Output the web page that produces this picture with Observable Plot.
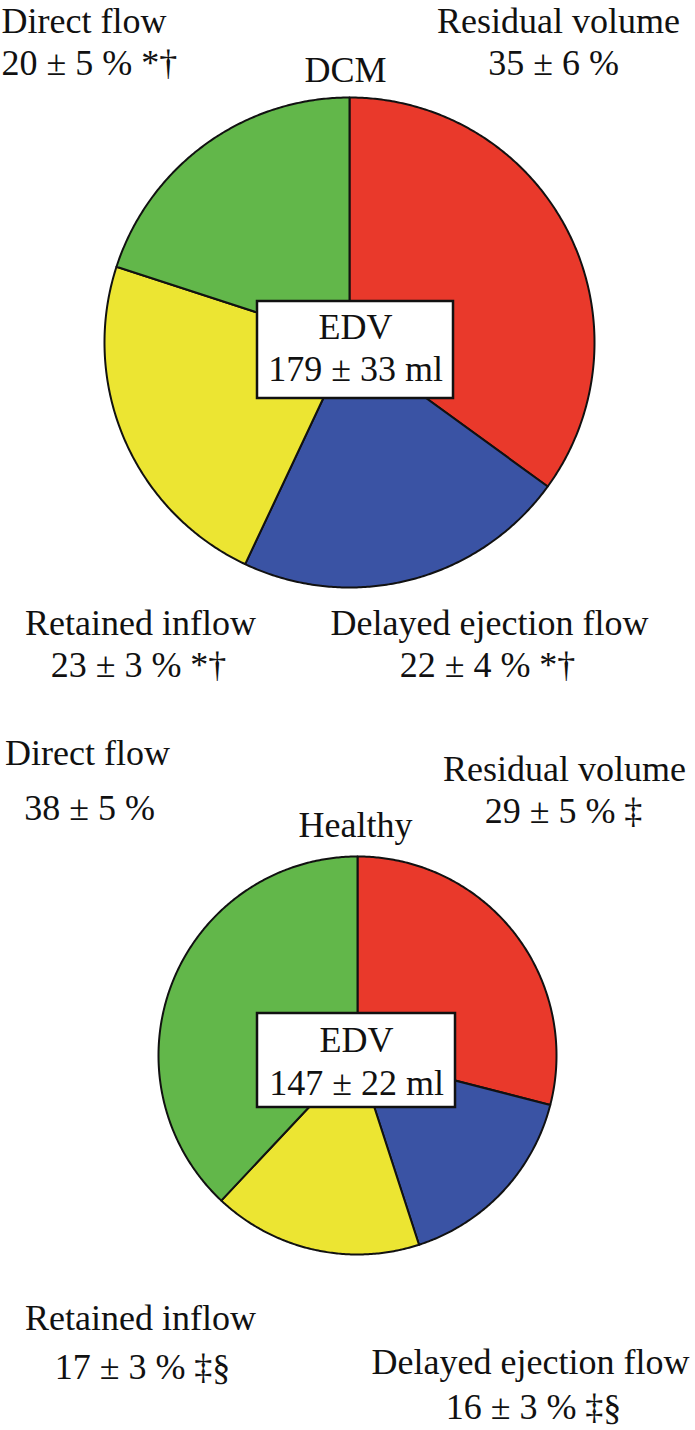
<!DOCTYPE html>
<html>
<head>
<meta charset="utf-8">
<script src="https://cdn.jsdelivr.net/npm/d3@7"></script>
<script src="https://cdn.jsdelivr.net/npm/@observablehq/plot@0.6"></script>
<style>
  html, body { margin: 0; padding: 0; background: #fff; }
  #chart svg { display: block; background: #fff; }
</style>
</head>
<body>
<div id="chart"></div>
<script>
// ---- Data ----
const categories = ["Residual volume", "Delayed ejection flow", "Retained inflow", "Direct flow"];
const groups = ["DCM", "Healthy"];
const dcmMean = [35, 22, 23, 20];
const dcmSD = [6, 4, 3, 5];
const dcmMarks = ["", "*†", "*†", "*†"];
const healthyMean = [29, 16, 17, 38];
const healthySD = [5, 3, 3, 5];
const healthyMarks = ["‡", "‡§", "‡§", ""];
const edvMean = [179, 147];
const edvSD = [33, 22];

// ---- Styles ----
const sliceColors = ["#e9392b", "#3a53a4", "#ece532", "#62b74a"];
const FONT = "Liberation Serif, Times New Roman, serif";
const FS = 36;

// ---- Layout (pixels) ----
const W = 695, H = 1430;
const pieLayout = [
  {cx: 349, cy: 342, r: 245},
  {cx: 357, cy: 1055, r: 199}
];
const titlePos = [{x: 345, y: 81}, {x: 355, y: 836}];
// label positions per group per category: name line and value line
const labelPos = [
  [ // DCM
    {nx: 558, ny: 32, vx: 553, vy: 74, anchor: "middle"},
    {nx: 489, ny: 634, vx: 487, vy: 676, anchor: "middle"},
    {nx: 140, ny: 634, vx: 138, vy: 676, anchor: "middle"},
    {nx: 1, ny: 32, vx: 1, vy: 74, anchor: "start"}
  ],
  [ // Healthy
    {nx: 564, ny: 780, vx: 563, vy: 822, anchor: "middle"},
    {nx: 530, ny: 1373, vx: 533, vy: 1418, anchor: "middle"},
    {nx: 140, ny: 1329, vx: 142, vy: 1378, anchor: "middle"},
    {nx: 87, ny: 764, vx: 89, vy: 819, anchor: "middle"}
  ]
];
const boxLayout = [
  {x1: 257, x2: 453, y1: 301, y2: 398, t1: 338, t2: 380, tx: 355},
  {x1: 257, x2: 455, y1: 1013, y2: 1107, t1: 1051, t2: 1094, tx: 356}
];

// ---- Build slice polygons from the values via d3.pie ----
const seriesMean = [dcmMean, healthyMean];
const seriesSD = [dcmSD, healthySD];
const seriesMarks = [dcmMarks, healthyMarks];

const slicePts = [];
seriesMean.forEach((vals, g) => {
  const {cx, cy, r} = pieLayout[g];
  const arcs = d3.pie().sort(null)(vals);
  arcs.forEach((a, i) => {
    const z = groups[g] + "-" + categories[i];
    const fill = sliceColors[i];
    slicePts.push({x: cx, y: cy, z, fill});
    const n = Math.max(2, Math.ceil((a.endAngle - a.startAngle) / (Math.PI / 360)));
    for (let k = 0; k <= n; k++) {
      const ang = a.startAngle + (a.endAngle - a.startAngle) * k / n;
      slicePts.push({x: cx + r * Math.sin(ang), y: cy - r * Math.cos(ang), z, fill});
    }
    slicePts.push({x: cx, y: cy, z, fill});
  });
});

// ---- Text ----
const texts = [];
groups.forEach((g, gi) => {
  texts.push({x: titlePos[gi].x, y: titlePos[gi].y, text: g, anchor: "middle"});
  categories.forEach((c, i) => {
    const p = labelPos[gi][i];
    const m = seriesMarks[gi][i];
    texts.push({x: p.nx, y: p.ny, text: c, anchor: p.anchor});
    texts.push({x: p.vx, y: p.vy,
      text: `${seriesMean[gi][i]} ± ${seriesSD[gi][i]} %` + (m ? " " + m : ""),
      anchor: p.anchor});
  });
  const b = boxLayout[gi];
  texts.push({x: b.tx, y: b.t1, text: "EDV", anchor: "middle"});
  texts.push({x: b.tx, y: b.t2, text: `${edvMean[gi]} ± ${edvSD[gi]} ml`, anchor: "middle"});
});

const startTexts = texts.filter(d => d.anchor === "start");
const midTexts = texts.filter(d => d.anchor === "middle");

const chart = Plot.plot({
  width: W,
  height: H,
  margin: 0,
  x: {domain: [0, W], range: [0, W], axis: null},
  y: {domain: [0, H], range: [0, H], axis: null},
  color: {type: "identity"},
  marks: [
    Plot.line(slicePts, {
      x: "x", y: "y", z: "z", fill: "fill",
      stroke: "#111", strokeWidth: 2, strokeLinejoin: "round", curve: "linear"
    }),
    Plot.rect(boxLayout, {
      x1: "x1", x2: "x2", y1: "y1", y2: "y2",
      fill: "white", stroke: "#111", strokeWidth: 2.5
    }),
    Plot.text(midTexts, {
      x: "x", y: "y", text: "text", textAnchor: "middle", lineAnchor: "bottom",
      fontFamily: FONT, fontSize: FS, fill: "#111"
    }),
    Plot.text(startTexts, {
      x: "x", y: "y", text: "text", textAnchor: "start", lineAnchor: "bottom",
      fontFamily: FONT, fontSize: FS, fill: "#111"
    })
  ]
});
document.getElementById("chart").appendChild(chart);
</script>
</body>
</html>
